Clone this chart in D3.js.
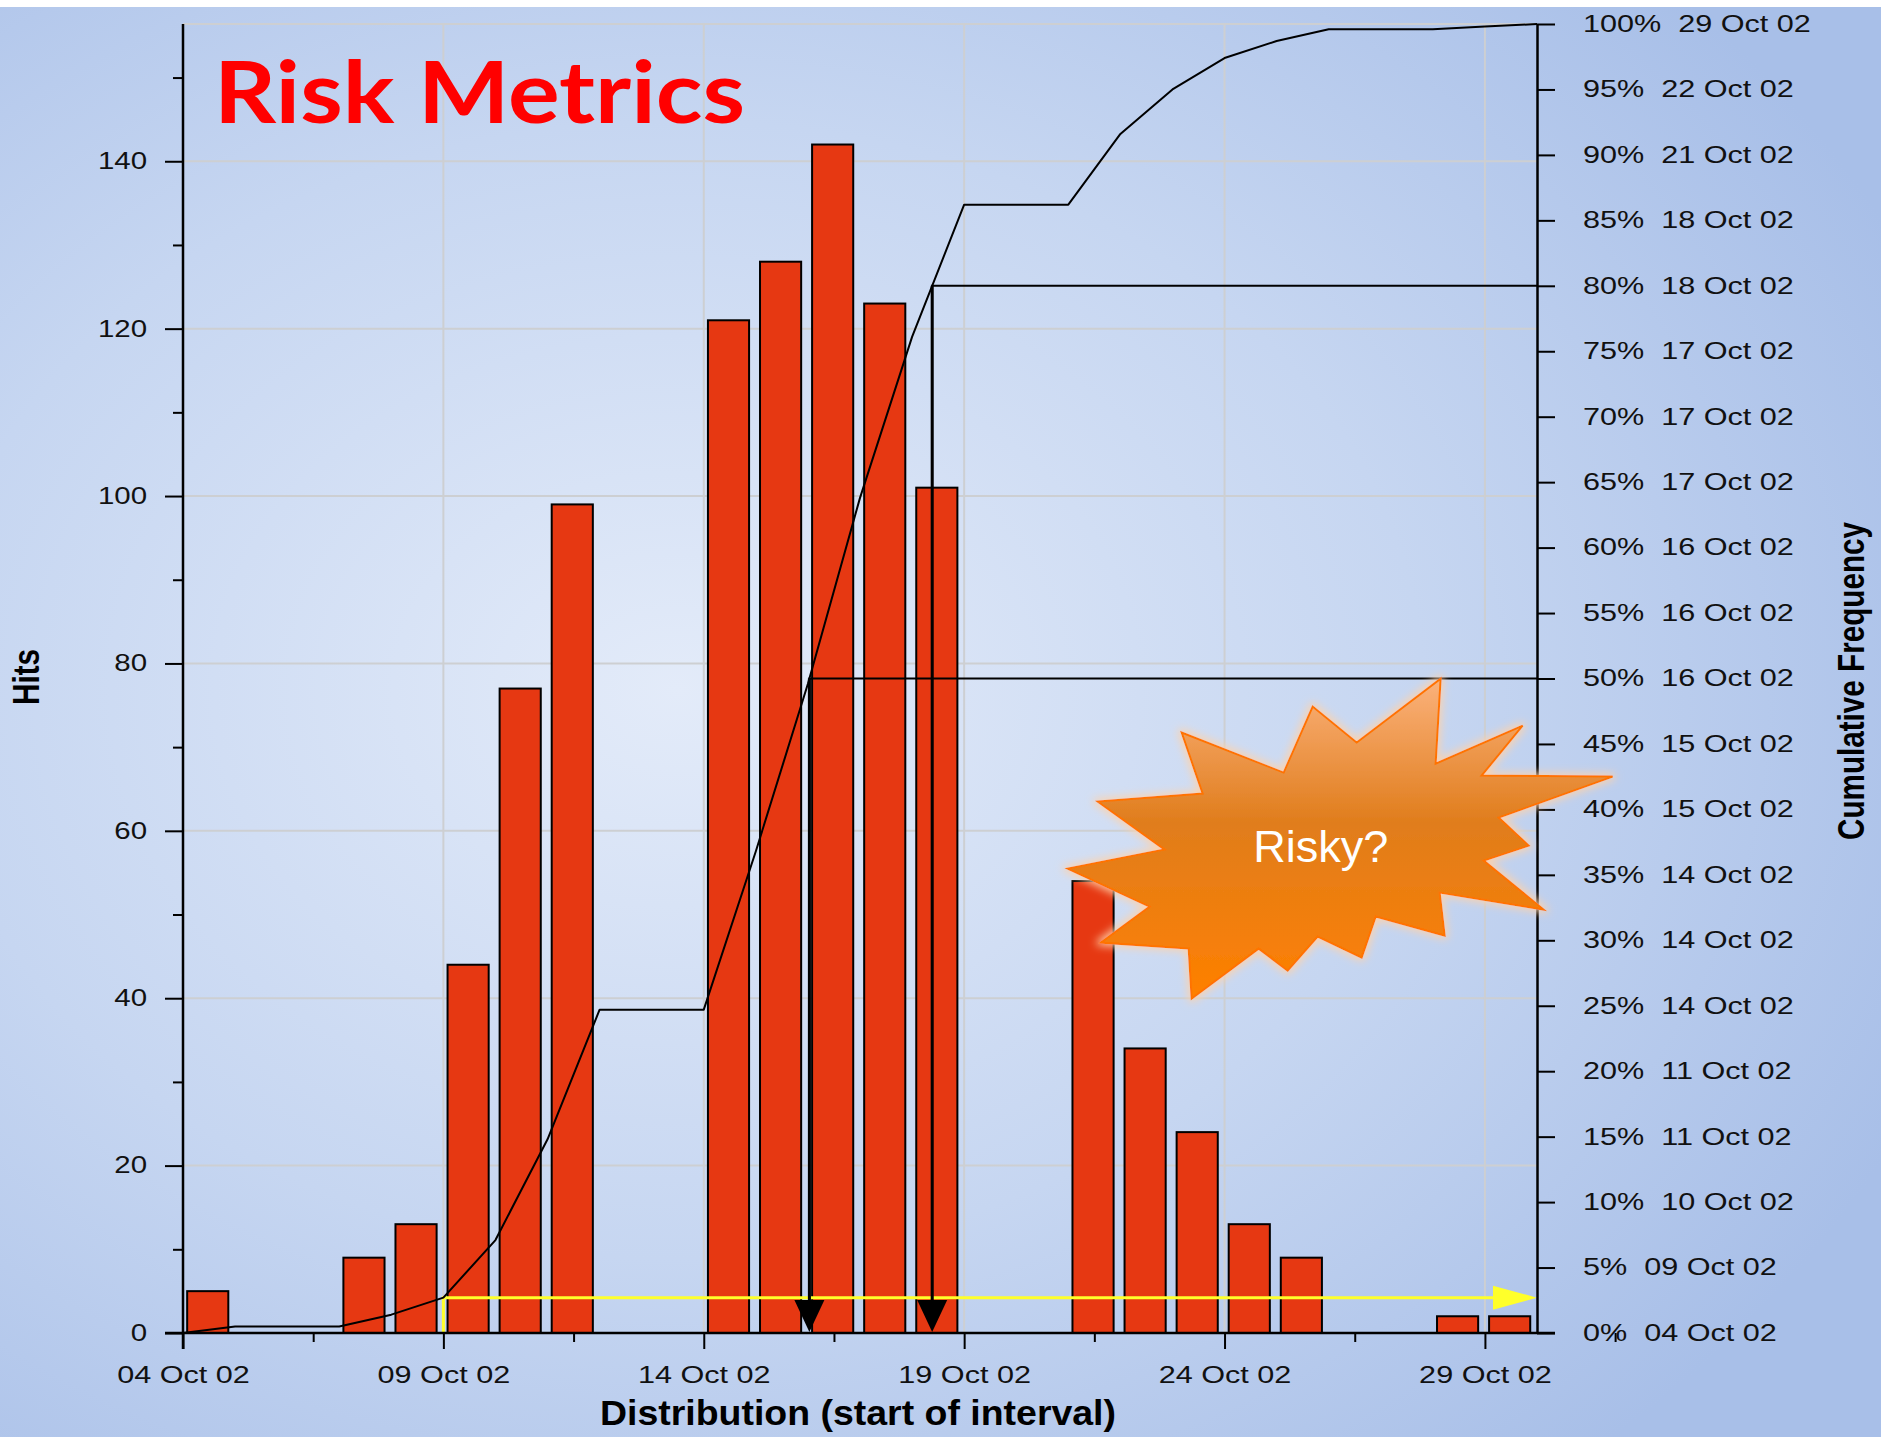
<!DOCTYPE html>
<html>
<head>
<meta charset="utf-8">
<script src="https://cdn.jsdelivr.net/npm/d3@7"></script>
<style>
  body { margin: 0; background: #fff; }
  svg { display: block; }
</style>
</head>
<body>
<svg id="canvas" width="1881" height="1437"></svg>
<script>
// bins (start of interval) and hits per bin
const binDates = ['2002-10-04', '2002-10-07', '2002-10-08', '2002-10-09', '2002-10-10', '2002-10-11',
                  '2002-10-14', '2002-10-15', '2002-10-16', '2002-10-17', '2002-10-18',
                  '2002-10-21', '2002-10-22', '2002-10-23', '2002-10-24', '2002-10-25',
                  '2002-10-28', '2002-10-29'];
const hits = [5, 9, 13, 44, 77, 99, 121, 128, 142, 123, 101, 54, 34, 24, 13, 9, 2, 2];

const xTickDates = ['2002-10-04', '2002-10-09', '2002-10-14', '2002-10-19', '2002-10-24', '2002-10-29'];
const xTickLabels = ['04 Oct 02', '09 Oct 02', '14 Oct 02', '19 Oct 02', '24 Oct 02', '29 Oct 02'];

const hitTicks = [0, 20, 40, 60, 80, 100, 120, 140];
const hitMinorTicks = [10, 30, 50, 70, 90, 110, 130, 150];

const pctTicks = [0, 5, 10, 15, 20, 25, 30, 35, 40, 45, 50, 55, 60, 65, 70, 75, 80, 85, 90, 95, 100];
const pctTickDates = ['04 Oct 02', '09 Oct 02', '10 Oct 02', '11 Oct 02', '11 Oct 02', '14 Oct 02',
                      '14 Oct 02', '14 Oct 02', '15 Oct 02', '15 Oct 02', '16 Oct 02', '16 Oct 02',
                      '16 Oct 02', '17 Oct 02', '17 Oct 02', '17 Oct 02', '18 Oct 02', '18 Oct 02',
                      '21 Oct 02', '22 Oct 02', '29 Oct 02'];

const markerLevels = [50, 80];      // black drop lines
const yellowDate = '2002-10-09';    // yellow marker

const parse = d3.timeParse('%Y-%m-%d');
const canvas = d3.select('#canvas');

const W = 1881, H = 1437;
const plotL = 183, plotR = 1537, plotT = 24, plotB = 1333;

const x = d3.scaleTime()
            .domain([parse('2002-10-04'), parse('2002-10-30')])
            .range([plotL, plotR]);
const yHits = d3.scaleLinear().domain([0, 156.4]).range([plotB, plotT]);
const yPct = d3.scaleLinear().domain([0, 100]).range([plotB, plotT]);

// stretch text horizontally like the original bitmap
const stretch = (sel, k) => sel.each(function () {
    const w = this.getComputedTextLength();
    d3.select(this).attr('textLength', w * k).attr('lengthAdjust', 'spacingAndGlyphs');
});

// background
const defs = canvas.append('defs');
const bg = defs.append('radialGradient').attr('id', 'bg')
               .attr('cx', '36%').attr('cy', '48%').attr('r', '72%');
bg.append('stop').attr('offset', '0%').attr('stop-color', '#e3ebf9');
bg.append('stop').attr('offset', '55%').attr('stop-color', '#c6d6f1');
bg.append('stop').attr('offset', '100%').attr('stop-color', '#a8bfe8');

const burstGrad = defs.append('linearGradient').attr('id', 'burst')
                      .attr('x1', 0).attr('y1', 0).attr('x2', 0).attr('y2', 1);
burstGrad.append('stop').attr('offset', '0%').attr('stop-color', '#fbb27c');
burstGrad.append('stop').attr('offset', '45%').attr('stop-color', '#e07d1c');
burstGrad.append('stop').attr('offset', '100%').attr('stop-color', '#ff8000');

const glow = defs.append('filter').attr('id', 'glow')
                 .attr('x', '-20%').attr('y', '-20%').attr('width', '140%').attr('height', '140%');
glow.append('feMorphology').attr('in', 'SourceAlpha').attr('operator', 'dilate').attr('radius', 2).attr('result', 'd');
glow.append('feGaussianBlur').attr('in', 'd').attr('stdDeviation', 4).attr('result', 'b');
glow.append('feFlood').attr('flood-color', '#ffd2a8').attr('flood-opacity', 0.9);
glow.append('feComposite').attr('in2', 'b').attr('operator', 'in').attr('result', 'g');
const merge = glow.append('feMerge');
merge.append('feMergeNode').attr('in', 'g');
merge.append('feMergeNode').attr('in', 'SourceGraphic');

canvas.append('rect').attr('width', W).attr('height', H).attr('fill', 'url(#bg)');
canvas.append('rect').attr('width', W).attr('height', 7).attr('fill', '#ffffff');

// grid
const gridColor = '#cdcfd2';
canvas.append('line')
      .attr('x1', plotL).attr('x2', plotR).attr('y1', plotT).attr('y2', plotT)
      .attr('stroke', gridColor).attr('stroke-width', 2);
canvas.append('g').selectAll('line')
      .data(hitTicks.slice(1))
      .enter().append('line')
      .attr('x1', plotL).attr('x2', plotR)
      .attr('y1', d => yHits(d)).attr('y2', d => yHits(d))
      .attr('stroke', gridColor).attr('stroke-width', 2);
canvas.append('g').selectAll('line')
      .data(xTickDates.slice(1))
      .enter().append('line')
      .attr('x1', d => x(parse(d))).attr('x2', d => x(parse(d)))
      .attr('y1', plotT).attr('y2', plotB)
      .attr('stroke', gridColor).attr('stroke-width', 2);

// bars: one day per interval
const dayW = x(parse('2002-10-05')) - x(parse('2002-10-04'));
canvas.append('g').selectAll('rect')
      .data(binDates.map((d, i) => ({ date: parse(d), value: hits[i] })))
      .enter().append('rect')
      .attr('x', d => x(d.date) + dayW * 0.08)
      .attr('y', d => yHits(d.value))
      .attr('width', dayW * 0.79)
      .attr('height', d => plotB - yHits(d.value))
      .attr('fill', '#e63812')
      .attr('stroke', '#000')
      .attr('stroke-width', 2);

// cumulative frequency, plotted at end of each interval
const total = d3.sum(hits);
const days = d3.timeDay.range(parse('2002-10-04'), d3.timeDay.offset(parse('2002-10-30'), 1));
const cum = days.map(day => ({
    date: day,
    pct: 100 * d3.sum(binDates.map((d, i) => parse(d) < day ? hits[i] : 0)) / total
}));

const dateAt = level => {
    const i = cum.findIndex(p => p.pct >= level);
    const a = cum[i - 1], b = cum[i];
    const t = (level - a.pct) / (b.pct - a.pct);
    return new Date(+a.date + t * (b.date - a.date));
};

// yellow marker
const yd = parse(yellowDate);
const yLevel = cum.find(p => +p.date === +yd).pct;
canvas.append('path')
      .attr('d', d3.line()([[x(yd), plotB], [x(yd), yPct(yLevel)], [plotR - 40, yPct(yLevel)]]))
      .attr('fill', 'none').attr('stroke', '#ffff2a').attr('stroke-width', 3);
canvas.append('path')
      .attr('d', d3.line()([[plotR - 44, yPct(yLevel) - 12], [plotR, yPct(yLevel)], [plotR - 44, yPct(yLevel) + 12]]) + 'Z')
      .attr('fill', '#ffff2a');

// black drop lines at 50% and 80%
markerLevels.forEach(level => {
    const d = dateAt(level);
    const mx = x(d), my = yPct(level);
    canvas.append('path')
          .attr('d', d3.line()([[plotR, my], [mx, my], [mx, plotB - 30]]))
          .attr('fill', 'none').attr('stroke', '#000').attr('stroke-width', 2);
    canvas.append('line')
          .attr('x1', mx).attr('x2', mx).attr('y1', my).attr('y2', plotB - 30)
          .attr('stroke', '#000').attr('stroke-width', 3);
    canvas.append('path')
          .attr('d', d3.line()([[mx - 15, plotB - 33], [mx + 15, plotB - 33], [mx, plotB - 1]]) + 'Z')
          .attr('fill', '#000');
});

canvas.append('path')
      .datum(cum)
      .attr('d', d3.line().x(d => x(d.date)).y(d => yPct(d.pct)))
      .attr('fill', 'none')
      .attr('stroke', '#000')
      .attr('stroke-width', 2)
      .attr('stroke-linejoin', 'round');

// axes
const tickFont = g => g.selectAll('text')
                       .attr('font-family', '"Liberation Sans", Arial, sans-serif')
                       .attr('font-size', 23)
                       .attr('fill', '#111');
const axisStyle = g => {
    g.select('.domain').attr('stroke', '#000').attr('stroke-width', 2.5);
    g.selectAll('.tick line').attr('stroke', '#000').attr('stroke-width', 2);
};

// left
canvas.append('g')
      .attr('transform', 'translate(' + plotL + ',0)')
      .call(d3.axisLeft(yHits).tickValues(hitMinorTicks).tickSize(10).tickFormat('').tickSizeOuter(0))
      .call(axisStyle)
      .select('.domain').remove();
const leftAxis = canvas.append('g')
      .attr('transform', 'translate(' + plotL + ',0)')
      .call(d3.axisLeft(yHits).tickValues(hitTicks).tickSize(18).tickPadding(18).tickSizeOuter(0))
      .call(axisStyle)
      .call(tickFont);
leftAxis.select('.domain').attr('d', 'M0,' + plotT + 'V' + (plotB + 16));
stretch(leftAxis.selectAll('text'), 1.28);

// bottom
const minorDates = xTickDates.map(d => d3.timeHour.offset(parse(d), 60));
canvas.append('g')
      .attr('transform', 'translate(0,' + plotB + ')')
      .call(d3.axisBottom(x).tickValues(minorDates).tickSize(9).tickFormat('').tickSizeOuter(0))
      .call(axisStyle)
      .select('.domain').remove();
const bottomAxis = canvas.append('g')
      .attr('transform', 'translate(0,' + plotB + ')')
      .call(d3.axisBottom(x).tickValues(xTickDates.map(parse)).tickSize(16)
              .tickFormat((d, i) => xTickLabels[i]).tickSizeOuter(0))
      .call(axisStyle)
      .call(tickFont);
bottomAxis.select('.domain').attr('d', 'M' + (plotL - 18) + ',0H' + (plotR + 18));
bottomAxis.selectAll('text').attr('y', 50).attr('dy', 0);
stretch(bottomAxis.selectAll('text'), 1.33);

// right
const rightAxis = canvas.append('g')
      .attr('transform', 'translate(' + plotR + ',0)')
      .call(d3.axisRight(yPct).tickValues(pctTicks).tickSize(18).tickPadding(28)
              .tickFormat((d, i) => d + '%  ' + pctTickDates[i]).tickSizeOuter(0))
      .call(axisStyle)
      .call(tickFont);
rightAxis.selectAll('text').style('white-space', 'pre');
stretch(rightAxis.selectAll('text'), 1.33);

// axis titles
canvas.append('text')
      .text('Hits')
      .attr('transform', 'translate(39,677) rotate(-90)')
      .attr('text-anchor', 'middle')
      .attr('font-family', '"Liberation Sans", Arial, sans-serif')
      .attr('font-weight', 'bold')
      .attr('font-size', 37)
      .attr('textLength', 56).attr('lengthAdjust', 'spacingAndGlyphs');

canvas.append('text')
      .text('Cumulative Frequency')
      .attr('transform', 'translate(1864,681) rotate(-90)')
      .attr('text-anchor', 'middle')
      .attr('font-family', '"Liberation Sans", Arial, sans-serif')
      .attr('font-weight', 'bold')
      .attr('font-size', 37)
      .attr('textLength', 318).attr('lengthAdjust', 'spacingAndGlyphs');

canvas.append('text')
      .text('Distribution (start of interval)')
      .attr('x', 858).attr('y', 1425)
      .attr('text-anchor', 'middle')
      .attr('font-family', '"Liberation Sans", Arial, sans-serif')
      .attr('font-weight', 'bold')
      .attr('font-size', 35)
      .attr('textLength', 516).attr('lengthAdjust', 'spacingAndGlyphs');

// "Risky?" starburst
const burstPoints = [[138, -157], [133, -72], [220, -110], [179, -60], [310, -59], [196, -18],
                     [226, 10], [181, 25], [241, 74], [137, 57], [142, 100], [73, 81],
                     [59, 122], [15, 101], [-15, 135], [-44, 113], [-111, 163], [-114, 113],
                     [-202, 107], [-153, 71], [-235, 33], [-138, 14], [-205, -34], [-100, -42],
                     [-121, -103], [-19, -63], [10, -129], [54, -93]];
const burst = canvas.append('g')
      .attr('transform', 'translate(' + x(new Date(2002, 9, 25, 12)) + ',' + yPct(38) + ')');
burst.append('path')
     .attr('d', d3.line()(burstPoints) + 'Z')
     .attr('fill', 'url(#burst)')
     .attr('stroke', '#ff7300')
     .attr('stroke-width', 2)
     .attr('stroke-linejoin', 'miter')
     .attr('filter', 'url(#glow)');
burst.append('text')
     .text('Risky?')
     .attr('x', 18).attr('y', 26)
     .attr('text-anchor', 'middle')
     .attr('font-family', '"Liberation Sans", Arial, sans-serif')
     .attr('font-size', 45)
     .attr('fill', '#ffffff');

// title
canvas.append('text')
      .text('Risk Metrics')
      .attr('x', 214).attr('y', 123)
      .attr('font-family', 'Lato, "Open Sans", sans-serif')
      .attr('font-weight', 'bold')
      .attr('font-size', 87)
      .attr('fill', '#ff0000')
      .attr('textLength', 531).attr('lengthAdjust', 'spacingAndGlyphs');
</script>
</body>
</html>
